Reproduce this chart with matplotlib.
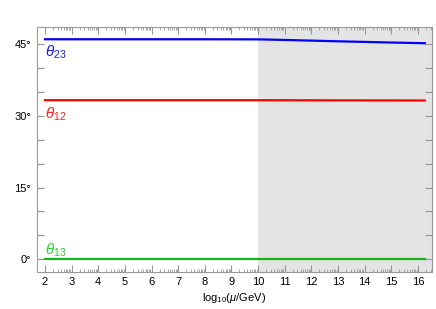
import numpy as np
import matplotlib
matplotlib.use('Agg')
import matplotlib.pyplot as plt
from matplotlib.ticker import FixedLocator, FuncFormatter

plt.rcParams['font.family'] = 'Liberation Sans'
plt.rcParams['mathtext.fontset'] = 'custom'
plt.rcParams['mathtext.rm'] = 'Liberation Sans'
plt.rcParams['mathtext.it'] = 'Liberation Sans:italic'

# running of mixing angles (degrees) vs log10(mu/GeV)
logmu = [2, 4, 6, 8, 10, 11, 12, 13, 14, 15, 16.26]
theta23 = [45.9, 45.9, 45.9, 45.9, 45.88, 45.76, 45.62, 45.48, 45.35, 45.22, 45.08]
theta12 = [33.2, 33.2, 33.2, 33.2, 33.2, 33.19, 33.18, 33.17, 33.16, 33.15, 33.14]
theta13 = [0.0, 0.0, 0.0, 0.0, 0.0, 0.0, 0.0, 0.0, 0.0, 0.0, 0.0]
shade_start = 10

fig = plt.figure(figsize=(4.36, 3.09), dpi=100)
ax = fig.add_axes([0.0842, 0.1207, 0.9066, 0.791])

ax.axvspan(shade_start, 17, color='#e4e4e4', lw=0, zorder=0)
ax.plot(logmu, theta23, color='#0000ff', lw=1.6, zorder=3)
ax.plot(logmu, theta12, color='#ff0000', lw=1.6, zorder=3)
ax.plot(logmu, theta13, color='#1cae1c', lw=1.6, zorder=3)

ax.text(2.0, 43.2, r'$\theta_{23}$', color='#1a1aff', fontsize=11, va='center', ha='left')
ax.text(2.0, 30.3, r'$\theta_{12}$', color='#ff2020', fontsize=11, va='center', ha='left')
ax.text(2.0, 2.0, r'$\theta_{13}$', color='#33cc33', fontsize=11, va='center', ha='left')

ax.set_xlim(1.69, 16.53)
ax.set_ylim(-2.55, 48.4)

major_x = list(range(2, 17))
minor_x = [n + np.log10(k) for n in range(2, 17) for k in range(2, 10)]
ax.xaxis.set_major_locator(FixedLocator(major_x))
ax.xaxis.set_minor_locator(FixedLocator(minor_x))
ax.yaxis.set_major_locator(FixedLocator([0, 15, 30, 45]))
ax.yaxis.set_minor_locator(FixedLocator([5, 10, 20, 25, 35, 40]))
ax.yaxis.set_major_formatter(FuncFormatter(lambda v, p: '%d\u00b0' % v))

ax.tick_params(which='both', direction='in', top=True, right=True, color='#999999',
               labelsize=8, labelcolor='black')
ax.tick_params(which='major', length=5, width=0.8, pad=4)
ax.tick_params(which='minor', length=2.5, width=0.6)
ax.tick_params(axis='y', which='major', length=5)
ax.tick_params(axis='y', which='minor', length=5, width=0.8)
for s in ax.spines.values():
    s.set_color('#999999')
    s.set_linewidth(0.8)

ax.set_xlabel(r'$\mathrm{log}_{10}(\mu/\mathrm{GeV})$', fontsize=8, labelpad=3)

fig.savefig('out.png', dpi=100)
